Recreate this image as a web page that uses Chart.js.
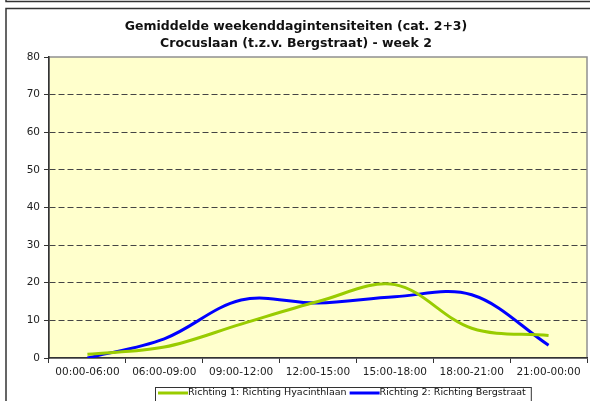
<!DOCTYPE html>
<html>
<head>
<meta charset="utf-8">
<script src="https://cdn.jsdelivr.net/npm/chart.js@4/dist/chart.umd.min.js"></script>
<style>
  html, body { margin: 0; padding: 0; background: #fff; }
  #wrap { width: 590px; height: 401px; }
</style>
</head>
<body>
<div id="wrap"><canvas id="chart" width="590" height="401"></canvas></div>
<script>
// Gegevens
const titleLines = ['Gemiddelde weekenddagintensiteiten (cat. 2+3)', 'Crocuslaan (t.z.v. Bergstraat) - week 2'];
const periods = ['00:00-06:00', '06:00-09:00', '09:00-12:00', '12:00-15:00', '15:00-18:00', '18:00-21:00', '21:00-00:00'];
const richting1 = [1.0, 2.9, 9.0, 15.0, 19.5, 7.9, 6.0];
const richting2 = [0.0, 5.1, 15.4, 14.6, 16.3, 16.8, 3.4];
const seriesNames = ['Richting 1: Richting Hyacinthlaan', 'Richting 2: Richting Bergstraat'];
const seriesColors = ['#99CC00', '#0000FF'];
const yTicks = [0, 10, 20, 30, 40, 50, 60, 70, 80];

const FONT = "'DejaVu Sans', Verdana, sans-serif";

// Achtergrond, kader, titel en legenda
const decor = {
    id: 'decor',
    beforeDraw(chart) {
        const ctx = chart.ctx;
        const a = chart.chartArea;
        ctx.save();
        ctx.fillStyle = '#fff';
        ctx.fillRect(0, 0, chart.width, chart.height);

        // kaders
        ctx.strokeStyle = '#333';
        ctx.lineWidth = 1.5;
        ctx.beginPath();
        ctx.moveTo(6, 0); ctx.lineTo(6, 1.5); ctx.lineTo(chart.width, 1.5);
        ctx.moveTo(chart.width, 8.5); ctx.lineTo(6, 8.5); ctx.lineTo(6, chart.height);
        ctx.stroke();

        // plotvlak
        ctx.fillStyle = '#FFFFCC';
        ctx.fillRect(a.left, a.top, a.right - a.left, a.bottom - a.top);
        ctx.strokeStyle = '#909090';
        ctx.lineWidth = 1.5;
        ctx.strokeRect(a.left, a.top, a.right - a.left, a.bottom - a.top);

        // titel
        ctx.fillStyle = '#111';
        ctx.font = 'bold 12.5px ' + FONT;
        ctx.textAlign = 'center';
        ctx.textBaseline = 'middle';
        ctx.fillText(titleLines[0], 296, 27);
        ctx.fillText(titleLines[1], 296, 44);
        ctx.restore();
    },
    afterDraw(chart) {
        const ctx = chart.ctx;
        ctx.save();
        ctx.font = '9.5px ' + FONT;
        ctx.textBaseline = 'middle';
        ctx.textAlign = 'left';
        const boxL = 155, boxT = 387, y = 393;
        let x = boxL + 3;
        const w0 = ctx.measureText(seriesNames[0]).width;
        const w1 = ctx.measureText(seriesNames[1]).width;
        const boxW = 3 + 30 + w0 + 3 + 30 + w1 + 5;
        ctx.fillStyle = '#fff';
        ctx.fillRect(boxL, boxT, boxW, 20);
        ctx.strokeStyle = '#333';
        ctx.lineWidth = 1;
        ctx.strokeRect(boxL + 0.5, boxT + 0.5, boxW, 20);
        seriesNames.forEach((name, i) => {
            ctx.strokeStyle = seriesColors[i];
            ctx.lineWidth = 3;
            ctx.beginPath();
            ctx.moveTo(x, y); ctx.lineTo(x + 30, y);
            ctx.stroke();
            ctx.fillStyle = '#111';
            ctx.fillText(name, x + 30, y);
            x += 30 + ctx.measureText(name).width + 3;
        });
        ctx.restore();
    }
};

new Chart(document.getElementById('chart'), {
    type: 'line',
    data: {
        labels: periods,
        datasets: [
            { label: seriesNames[0], data: richting1, borderColor: seriesColors[0], backgroundColor: seriesColors[0], borderWidth: 3, pointRadius: 0, tension: 0.35, fill: false },
            { label: seriesNames[1], data: richting2, borderColor: seriesColors[1], backgroundColor: seriesColors[1], borderWidth: 3, pointRadius: 0, tension: 0.35, fill: false }
        ]
    },
    options: {
        responsive: false,
        animation: false,
        layout: { padding: { left: 6, right: 3, top: 57, bottom: 0 } },
        plugins: {
            legend: { display: false },
            title: { display: false },
            tooltip: { enabled: false }
        },
        scales: {
            x: {
                offset: true,
                afterFit: (scale) => { scale.height = 43; },
                grid: { offset: true, drawOnChartArea: false, tickLength: 5, color: '#333' },
                border: { color: '#333', width: 1.5 },
                ticks: { color: '#222', font: { family: FONT, size: 10.5 }, padding: 3, maxRotation: 0, autoSkip: false }
            },
            y: {
                min: 0,
                max: 80,
                afterFit: (scale) => { scale.width = 43; },
                afterBuildTicks: (scale) => { scale.ticks = yTicks.map(v => ({ value: v })); },
                grid: {
                    color: (c) => (c.tick && (c.tick.value === 0 || c.tick.value === 80)) ? 'rgba(0,0,0,0)' : '#444',
                    tickColor: '#333',
                    tickLength: 5,
                    tickBorderDash: [],
                    lineWidth: 1
                },
                border: { color: '#333', width: 1.5, dash: [6, 3] },
                ticks: { color: '#222', font: { family: FONT, size: 10.5 }, padding: 4 }
            }
        }
    },
    plugins: [decor]
});
</script>
</body>
</html>
